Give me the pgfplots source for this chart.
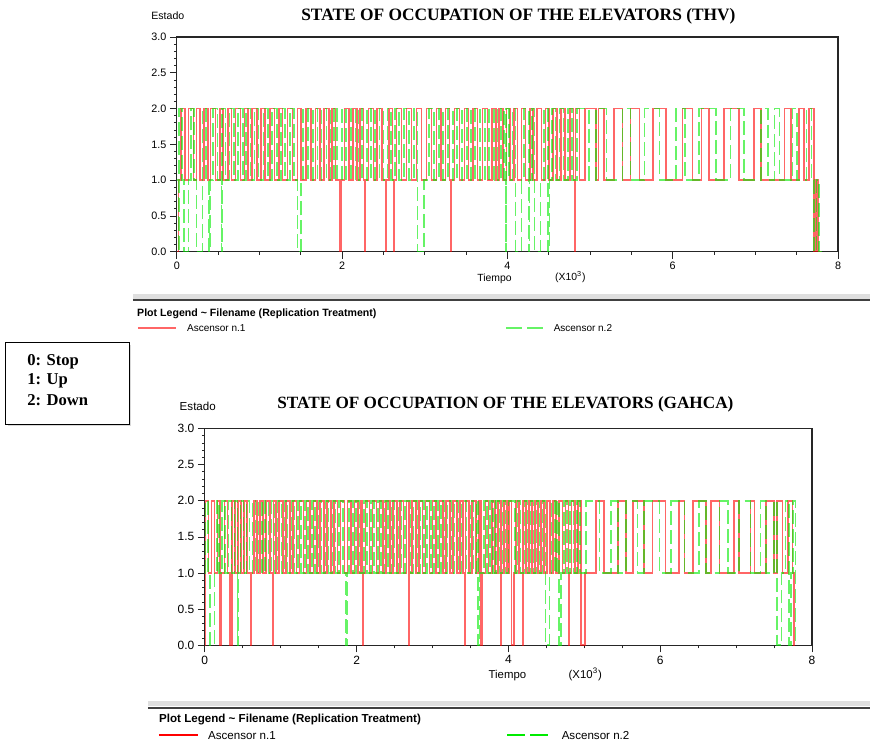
\documentclass[border=0pt]{standalone}
\usepackage{pgfplots}
\pgfplotsset{compat=1.18}
\usepackage{fontspec}
\setmainfont{Liberation Sans}
\newfontfamily\serifb{Liberation Serif}
\definecolor{rl}{RGB}{255,0,0}
\definecolor{gl}{RGB}{0,235,0}
\definecolor{rlleg}{RGB}{255,102,102}
\definecolor{glleg}{RGB}{102,243,102}

\pgfplotstableread{
x y
0 0
0.02 1
0.05 2
0.10 1
0.14 2
0.20 1
0.24 2
0.28 1
0.33 2
0.38 1
0.41 2
0.47 1
0.52 2
0.56 1
0.62 2
0.66 1
0.71 2
0.77 1
0.82 2
0.86 1
0.91 2
0.97 1
1.02 2
1.07 1
1.13 2
1.18 1
1.24 2
1.28 1
1.34 2
1.40 1
1.46 2
1.50 1
1.56 2
1.62 1
1.68 2
1.73 1
1.78 2
1.84 1
1.88 2
1.92 1
1.97 0
1.99 1
2.03 2
2.08 1
2.13 2
2.18 1
2.22 2
2.26 1
2.27 0
2.275 1
2.32 2
2.38 1
2.42 2
2.48 1
2.53 0
2.535 1
2.57 2
2.61 1
2.62 0
2.625 1
2.66 2
2.72 1
2.78 2
2.84 1
2.90 2
2.96 1
3.02 2
3.08 1
3.14 2
3.20 1
3.25 2
3.30 1
3.31 0
3.315 1
3.36 2
3.42 1
3.48 2
3.53 1
3.58 2
3.64 1
3.70 2
3.76 1
3.81 2
3.86 1
3.90 2
3.95 1
3.99 2
4.03 1
4.08 2
4.12 1
4.17 2
4.22 1
4.27 2
4.31 1
4.36 2
4.41 1
4.46 2
4.50 1
4.55 2
4.60 1
4.65 2
4.70 1
4.76 2
4.80 1
4.82 0
4.825 2
4.87 1
4.94 2
5.07 1
5.10 2
5.17 1
5.29 2
5.39 1
5.49 2
5.60 1
5.76 2
5.92 1
6.12 2
6.24 1
6.35 2
6.44 1
6.62 2
6.80 1
6.98 2
7.07 1
7.35 2
7.43 1
7.53 2
7.59 1
7.65 2
7.71 0
7.73 1
7.76 0
7.79 0
}\thvA

\pgfplotstableread{
x y
0 1
0.02 0
0.03 2
0.06 1
0.09 0
0.14 1
0.17 2
0.21 1
0.24 0
0.31 2
0.35 1
0.39 0
0.40 1
0.44 2
0.49 1
0.54 0
0.545 2
0.59 1
0.64 2
0.69 1
0.74 2
0.80 1
0.84 2
0.89 1
0.94 2
0.99 1
1.05 2
1.10 1
1.15 2
1.21 1
1.26 2
1.31 1
1.37 2
1.42 1
1.46 0
1.50 1
1.53 2
1.59 1
1.65 2
1.70 1
1.75 2
1.81 1
1.86 2
1.90 1
1.94 2
2.00 1
2.05 2
2.11 1
2.16 2
2.20 1
2.24 2
2.30 1
2.35 2
2.40 1
2.45 2
2.50 1
2.55 2
2.59 1
2.64 2
2.69 1
2.75 2
2.81 1
2.87 2
2.91 0
2.99 1
3.05 2
3.11 1
3.17 2
3.22 1
3.28 2
3.34 1
3.39 2
3.45 1
3.51 2
3.56 1
3.61 2
3.67 1
3.73 2
3.78 1
3.84 2
3.88 1
3.92 2
3.96 1
3.98 0
3.985 2
4.02 1
4.06 2
4.10 0
4.17 1
4.20 2
4.26 0
4.265 1
4.30 2
4.33 0
4.40 1
4.44 2
4.49 0
4.51 1
4.54 2
4.58 1
4.63 2
4.68 1
4.73 2
4.78 1
4.84 2
4.99 1
5.07 2
5.20 1
5.39 2
5.49 1
5.66 2
5.84 1
6.04 2
6.15 1
6.32 2
6.52 1
6.70 2
6.86 1
7.07 2
7.15 1
7.23 2
7.29 1
7.45 2
7.50 1
7.62 2
7.68 1
7.71 0
7.74 1
7.77 0
7.80 0
}\thvB

\pgfplotstableread{
x y
0 0
0.01 2
0.05 1
0.09 2
0.13 1
0.17 2
0.20 0
0.22 1
0.26 2
0.30 1
0.33 0
0.36 2
0.40 1
0.44 2
0.48 1
0.52 2
0.56 1
0.61 0
0.615 1
0.65 2
0.69 1
0.73 2
0.77 1
0.81 2
0.86 1
0.90 0
0.905 2
0.94 1
0.98 2
1.03 1
1.07 2
1.12 1
1.16 2
1.21 1
1.25 2
1.30 1
1.34 2
1.39 1
1.43 2
1.48 1
1.52 2
1.57 1
1.61 2
1.66 1
1.70 2
1.75 1
1.79 2
1.84 1
1.88 2
1.93 1
1.97 2
2.02 1
2.06 2
2.08 0
2.085 1
2.12 2
2.17 1
2.21 2
2.26 1
2.30 2
2.35 1
2.39 2
2.44 1
2.48 2
2.53 1
2.57 2
2.62 1
2.66 2
2.69 0
2.695 1
2.73 2
2.78 1
2.82 2
2.87 1
2.91 2
2.96 1
3.00 2
3.05 1
3.09 2
3.14 1
3.18 2
3.23 1
3.27 2
3.32 1
3.36 2
3.40 1
3.43 0
3.435 2
3.48 1
3.52 2
3.57 1
3.61 2
3.64 0
3.66 1
3.70 2
3.74 1
3.78 2
3.82 1
3.86 2
3.90 0
3.905 1
3.94 2
3.98 1
4.01 2
4.04 0
4.07 1
4.10 2
4.14 1
4.19 0
4.195 2
4.23 1
4.27 2
4.31 1
4.35 2
4.39 1
4.43 2
4.47 1
4.51 2
4.55 1
4.59 2
4.63 1
4.67 2
4.71 1
4.75 2
4.79 0
4.795 1
4.83 2
4.88 1
4.92 2
4.96 0
5.01 1
5.15 2
5.26 1
5.44 2
5.55 1
5.64 2
5.79 1
5.90 2
6.07 1
6.25 2
6.32 1
6.43 2
6.60 1
6.67 2
6.78 1
6.97 2
7.04 1
7.19 2
7.24 1
7.39 2
7.50 1
7.54 2
7.61 1
7.68 2
7.74 1
7.76 0
7.78 0
}\gahA

\pgfplotstableread{
x y
0 1
0.01 2
0.04 1
0.07 0
0.13 1
0.16 2
0.19 1
0.23 2
0.27 1
0.31 2
0.35 1
0.39 2
0.43 0
0.435 1
0.47 2
0.51 1
0.55 2
0.59 1
0.63 2
0.67 1
0.71 2
0.75 1
0.79 2
0.84 1
0.88 2
0.92 1
0.96 2
1.01 1
1.05 2
1.09 1
1.14 2
1.18 1
1.23 2
1.27 1
1.32 2
1.36 1
1.41 2
1.45 1
1.50 2
1.54 1
1.59 2
1.63 1
1.68 2
1.72 1
1.77 2
1.82 1
1.86 0
1.87 1
1.90 2
1.95 1
1.99 2
2.04 1
2.10 2
2.14 1
2.19 2
2.23 1
2.28 2
2.32 1
2.37 2
2.41 1
2.46 2
2.50 1
2.55 2
2.59 1
2.64 2
2.71 1
2.75 2
2.80 1
2.84 2
2.89 1
2.93 2
2.98 1
3.02 2
3.07 1
3.11 2
3.16 1
3.20 2
3.25 1
3.29 2
3.34 1
3.38 2
3.45 1
3.50 2
3.54 1
3.58 2
3.60 0
3.62 1
3.68 2
3.72 1
3.76 2
3.80 1
3.84 2
3.88 1
3.92 2
3.96 1
4.00 2
4.09 1
4.12 2
4.16 1
4.21 2
4.25 1
4.29 2
4.33 1
4.37 2
4.41 1
4.45 2
4.49 0
4.54 1
4.57 2
4.61 1
4.64 2
4.67 0
4.69 1
4.73 2
4.77 1
4.81 2
4.86 1
4.90 2
4.94 1
5.02 2
5.20 1
5.35 2
5.44 1
5.55 2
5.70 1
5.79 2
5.99 1
6.14 2
6.32 1
6.51 2
6.60 1
6.78 2
6.89 1
7.04 2
7.19 1
7.32 2
7.39 1
7.50 2
7.54 0
7.60 1
7.65 2
7.70 0
7.72 1
7.75 2
7.78 0
}\gahB

\pgfplotsset{
  elev/.style={
    scale only axis,
    xmin=0, xmax=8, ymin=0, ymax=3,
    xtick={0,2,4,6,8},
    ytick={0,0.5,1,1.5,2,2.5,3},
    minor x tick num=3,
    minor y tick num=4,
    tick align=outside,
    xtick pos=bottom, ytick pos=left,
    major tick length=3.5pt,
    minor tick length=1.5pt,
    axis line style={black!85, line width=0.6pt},
    every tick/.style={black!85, line width=0.4pt},
    /pgf/number format/assume math mode=true,
    yticklabel style={inner sep=1.5pt, /pgf/number format/fixed, /pgf/number format/fixed zerofill, /pgf/number format/precision=1},
    xticklabel style={inner sep=1.5pt},
  },
  ser1/.style={const plot, color=rl, opacity=0.6, line width=0.8pt},
  ser2/.style={const plot, color=gl, opacity=0.6, line width=0.8pt, dash pattern=on 7pt off 2.5pt},
}

\begin{document}
\begin{tikzpicture}
\begin{scope}[x=0.5pt,y=-0.5pt]
\useasboundingbox (0,0) rectangle (871,746);
\end{scope}

% top axis
\begin{axis}[elev, at={(88.5pt,-126pt)}, anchor=south west,
  width=331pt, height=107.5pt,
  ticklabel style={font=\fontsize{5.4}{6}\selectfont}]
\addplot[ser1] table[x=x,y=y] {\thvA};
\addplot[ser2] table[x=x,y=y] {\thvB};
\end{axis}

% bottom axis
\begin{axis}[elev, at={(102.5pt,-323pt)}, anchor=south west,
  width=304pt, height=108.5pt,
  ticklabel style={font=\fontsize{6}{7}\selectfont}]
\addplot[ser1] table[x=x,y=y] {\gahA};
\addplot[ser2] table[x=x,y=y] {\gahB};
\end{axis}

\begin{scope}[x=0.5pt,y=-0.5pt]
% top texts
\node[font=\fontsize{8.7}{10}\selectfont\serifb\bfseries] at (519,16) {STATE OF OCCUPATION OF THE ELEVATORS (THV)};
\node[font=\fontsize{5.3}{6}\selectfont] at (168,16) {Estado};
\node[font=\fontsize{5.2}{6}\selectfont] at (495,279) {Tiempo};
\node[font=\fontsize{5.2}{6}\selectfont] at (571,277) {(X10\textsuperscript{3})};
\fill[gray!25] (133,294) rectangle (871,299);
\draw[black!75, line width=1pt] (133,300.5) -- (871,300.5);
\node[anchor=west, inner sep=0pt, font=\fontsize{5.3}{6}\selectfont\bfseries] at (137,314) {Plot Legend \textasciitilde{} Filename (Replication Treatment)};
\draw[rlleg, line width=0.9pt] (138,328) -- (176,328);
\node[anchor=west, inner sep=0pt, font=\fontsize{5.0}{6}\selectfont] at (187,328) {Ascensor n.1};
\draw[glleg, line width=0.9pt, dash pattern=on 8pt off 2.5pt] (507,328) -- (546,328);
\node[anchor=west, inner sep=0pt, font=\fontsize{5.0}{6}\selectfont] at (554,328) {Ascensor n.2};

% box
\fill[gray!30] (8,345) rectangle (131.5,426.5);
\fill[white] (6,343) rectangle (130,425);
\draw[black, line width=0.5pt] (6,343) rectangle (130,425);
\node[anchor=west, inner sep=0pt, font=\fontsize{8.3}{10}\selectfont\serifb\bfseries] at (27,362) {0: Stop};
\node[anchor=west, inner sep=0pt, font=\fontsize{8.3}{10}\selectfont\serifb\bfseries] at (27,381) {1: Up};
\node[anchor=west, inner sep=0pt, font=\fontsize{8.3}{10}\selectfont\serifb\bfseries] at (27,401) {2: Down};

% bottom texts
\node[font=\fontsize{8.6}{10}\selectfont\serifb\bfseries] at (506,405) {STATE OF OCCUPATION OF THE ELEVATORS (GAHCA)};
\node[font=\fontsize{5.8}{7}\selectfont] at (198,407) {Estado};
\node[font=\fontsize{5.7}{7}\selectfont] at (508,676) {Tiempo};
\node[font=\fontsize{5.7}{7}\selectfont] at (586,675) {(X10\textsuperscript{3})};
\fill[gray!25] (148,702) rectangle (871,707);
\draw[black!75, line width=1pt] (148,708.5) -- (871,708.5);
\node[anchor=west, inner sep=0pt, font=\fontsize{5.8}{7}\selectfont\bfseries] at (159,720) {Plot Legend \textasciitilde{} Filename (Replication Treatment)};
\draw[rl, line width=0.9pt] (159,736) -- (198,736);
\node[anchor=west, inner sep=0pt, font=\fontsize{5.8}{7}\selectfont] at (208,736) {Ascensor n.1};
\draw[gl, line width=0.9pt, dash pattern=on 9pt off 2.5pt] (508,736) -- (550,736);
\node[anchor=west, inner sep=0pt, font=\fontsize{5.8}{7}\selectfont] at (562,736) {Ascensor n.2};
\end{scope}
\end{tikzpicture}
\end{document}
